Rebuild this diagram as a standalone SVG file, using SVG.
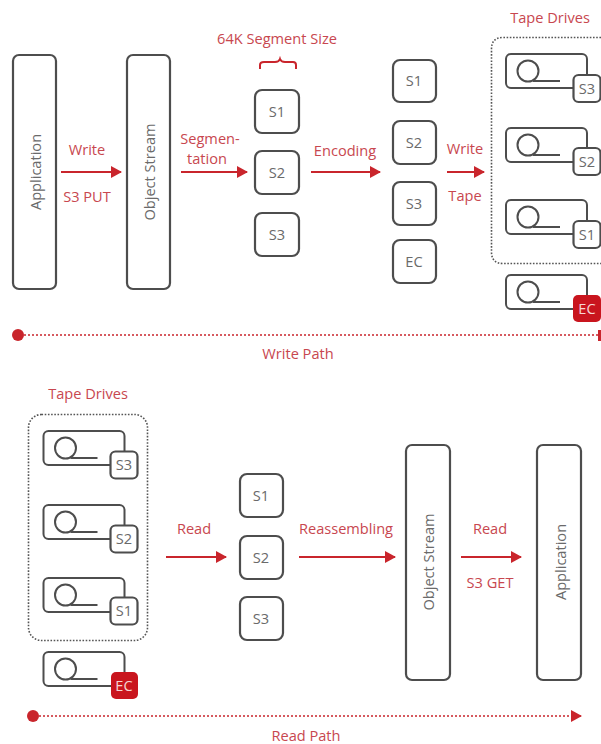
<svg xmlns="http://www.w3.org/2000/svg" width="601" height="744" viewBox="0 0 601 744">
<style>
text{font-family:"Open Sans","Noto Sans","Liberation Sans",sans-serif;font-size:14.6px;text-anchor:middle}
.r{fill:#c8474f}
.g{fill:#6a6a6a}
.b{fill:#fff;stroke:#4d4d4d;stroke-width:2.2}
.w{fill:none;stroke:#4d4d4d;stroke-width:2}
.a{fill:none;stroke:#c9252c;stroke-width:2}
.d{fill:none;stroke:#555;stroke-width:1.6;stroke-dasharray:1.6 1.6}
.p{fill:none;stroke:#c9252c;stroke-width:1.6;stroke-dasharray:2 2}
</style>
<defs>
<marker id="ah" markerUnits="userSpaceOnUse" markerWidth="11" markerHeight="12" refX="10" refY="6" orient="auto"><path d="M0 0L11 6L0 12Z" fill="#c9252c"/></marker>
<g id="drive"><rect class="w" x="0" y="0" width="81" height="34" rx="5"/><circle class="w" cx="22" cy="17" r="10.500"/><path class="w" d="M27 27H54"/></g>
</defs>
<g id="connectors">
<path class="a" marker-end="url(#ah)" d="M61 172H121"/>
<path class="a" marker-end="url(#ah)" d="M181 172H247"/>
<path class="a" marker-end="url(#ah)" d="M311 172H380"/>
<path class="a" marker-end="url(#ah)" d="M447 172H484"/>
<path class="a" marker-end="url(#ah)" d="M166 557H226"/>
<path class="a" marker-end="url(#ah)" d="M299 557H395"/>
<path class="a" marker-end="url(#ah)" d="M461 557H521"/>
<path class="p" d="M24 335H598"/>
<rect x="598" y="330" width="3" height="11" fill="#c9252c"/>
<circle cx="18" cy="335" r="6" fill="#c9252c"/>
<path class="p" marker-end="url(#ah)" d="M39 716H581"/>
<circle cx="33" cy="716" r="6" fill="#c9252c"/>
<path class="a" d="M260 69V65Q260 62 264 62H275Q279 62 280 59Q281 62 285 62H293Q296 62 296 65V69"/>
</g>
<g id="write-application"><rect class="b" x="13" y="55" width="43" height="234" rx="6"/><text class="g" transform="translate(41 172) rotate(-90)">Application</text></g>
<g id="write-object-stream"><rect class="b" x="127" y="55" width="43" height="234" rx="6"/><text class="g" transform="translate(155 172) rotate(-90)">Object Stream</text></g>
<g id="seg-s1"><rect class="b" x="255" y="90" width="44" height="43" rx="7"/><text class="g" x="277" y="117">S1</text></g>
<g id="seg-s2"><rect class="b" x="255" y="151" width="44" height="43" rx="7"/><text class="g" x="277" y="178">S2</text></g>
<g id="seg-s3"><rect class="b" x="255" y="213" width="44" height="43" rx="7"/><text class="g" x="277" y="240">S3</text></g>
<g id="enc-s1"><rect class="b" x="393" y="60" width="43" height="42" rx="7"/><text class="g" x="414" y="86">S1</text></g>
<g id="enc-s2"><rect class="b" x="393" y="121" width="43" height="43" rx="7"/><text class="g" x="414" y="148">S2</text></g>
<g id="enc-s3"><rect class="b" x="393" y="182" width="43" height="43" rx="7"/><text class="g" x="414" y="209">S3</text></g>
<g id="enc-ec"><rect class="b" x="393" y="240" width="43" height="43" rx="7"/><text class="g" x="414" y="267">EC</text></g>
<g id="write-tape-group"><path class="d" d="M601 37.500H503Q491.500 37.500 491.500 49V252Q491.500 263.500 503 263.500H601"/></g>
<g id="write-drive-s3"><use href="#drive" x="506" y="54"/><rect class="b" x="573.500" y="75" width="27" height="27" rx="5"/><text class="g" x="587" y="94">S3</text></g>
<g id="write-drive-s2"><use href="#drive" x="506" y="128"/><rect class="b" x="573.500" y="148" width="27" height="27" rx="5"/><text class="g" x="587" y="167">S2</text></g>
<g id="write-drive-s1"><use href="#drive" x="506" y="200"/><rect class="b" x="573.500" y="221" width="27" height="27" rx="5"/><text class="g" x="587" y="240">S1</text></g>
<g id="write-drive-ec"><use href="#drive" x="506" y="275"/><rect x="573" y="295" width="28" height="27" rx="5" fill="#c9151e"/><text fill="#f6d5d5" x="587" y="314">EC</text></g>
<g id="read-tape-group"><rect class="d" x="28.500" y="414.500" width="119" height="226" rx="13"/></g>
<g id="read-drive-s3"><use href="#drive" x="43.500" y="431"/><rect class="b" x="110.500" y="451.500" width="27" height="27" rx="5"/><text class="g" x="124" y="470">S3</text></g>
<g id="read-drive-s2"><use href="#drive" x="43.500" y="505"/><rect class="b" x="110.500" y="525.500" width="27" height="27" rx="5"/><text class="g" x="124" y="544">S2</text></g>
<g id="read-drive-s1"><use href="#drive" x="43.500" y="578"/><rect class="b" x="110.500" y="597.500" width="27" height="27" rx="5"/><text class="g" x="124" y="616">S1</text></g>
<g id="read-drive-ec"><use href="#drive" x="43.500" y="652"/><rect x="111" y="672" width="27" height="27" rx="5" fill="#c9151e"/><text fill="#f6d5d5" x="124" y="691">EC</text></g>
<g id="read-s1"><rect class="b" x="240" y="474" width="43" height="43" rx="7"/><text class="g" x="261" y="501">S1</text></g>
<g id="read-s2"><rect class="b" x="240" y="536" width="43" height="43" rx="7"/><text class="g" x="261" y="563">S2</text></g>
<g id="read-s3"><rect class="b" x="240" y="597" width="43" height="43" rx="7"/><text class="g" x="261" y="624">S3</text></g>
<g id="read-object-stream"><rect class="b" x="406" y="445" width="44" height="235" rx="6"/><text class="g" transform="translate(434 562) rotate(-90)">Object Stream</text></g>
<g id="read-application"><rect class="b" x="537" y="445" width="44" height="235" rx="6"/><text class="g" transform="translate(566 562) rotate(-90)">Application</text></g>
<g id="labels">
<text class="r" x="277" y="44">64K Segment Size</text>
<text class="r" x="550" y="23">Tape Drives</text>
<text class="r" x="87" y="155">Write</text>
<text class="r" x="87" y="202">S3 PUT</text>
<text class="r" x="210" y="144">Segmen-</text>
<text class="r" x="207" y="164">tation</text>
<text class="r" x="345" y="156">Encoding</text>
<text class="r" x="465" y="154">Write</text>
<text class="r" x="465" y="201">Tape</text>
<text class="r" x="298" y="359">Write Path</text>
<text class="r" x="88" y="399">Tape Drives</text>
<text class="r" x="194" y="534">Read</text>
<text class="r" x="346" y="534">Reassembling</text>
<text class="r" x="490" y="534">Read</text>
<text class="r" x="490" y="588">S3 GET</text>
<text class="r" x="306" y="741">Read Path</text>
</g>
</svg>
